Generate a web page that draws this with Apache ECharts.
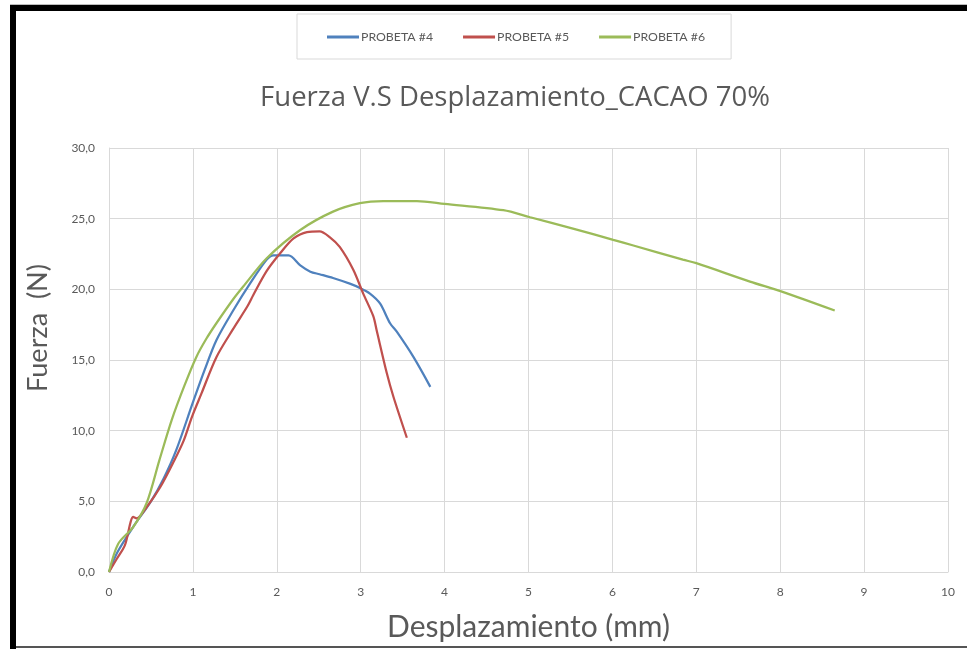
<!DOCTYPE html>
<html>
<head>
<meta charset="utf-8">
<style>
  html, body { margin: 0; padding: 0; background: #fff; }
  #chart { width: 967px; height: 649px; }
</style>
<script src="https://cdn.jsdelivr.net/npm/echarts@6/dist/echarts.min.js"></script>
</head>
<body>
<div id="chart"></div>
<script>
// Force (N) vs displacement (mm) for three 70% cacao specimens
const seriesNames = ['PROBETA #4', 'PROBETA #5', 'PROBETA #6'];
const seriesColors = ['#4F81BD', '#C0504D', '#9BBB59'];

const probeta4 = [
  [0, 0], [0.1, 1.4], [0.3, 3.3], [0.5, 5.0], [0.65, 6.6], [0.8, 8.6], [1.0, 12.0],
  [1.14, 14.3], [1.28, 16.4], [1.48, 18.5], [1.68, 20.4], [1.88, 22.1], [1.96, 22.4],
  [2.14, 22.4], [2.28, 21.7], [2.4, 21.25], [2.51, 21.07], [2.67, 20.8], [2.87, 20.4],
  [2.99, 20.1], [3.11, 19.7], [3.23, 19.0], [3.35, 17.6], [3.43, 17.0], [3.63, 15.2],
  [3.83, 13.1]
];

const probeta5 = [
  [0, 0], [0.09, 0.9], [0.19, 1.9], [0.29, 3.9], [0.33, 3.8], [0.45, 4.6], [0.61, 6.0],
  [0.77, 7.8], [0.89, 9.3], [0.99, 11.0], [1.1, 12.6], [1.28, 15.2], [1.48, 17.2],
  [1.65, 18.8], [1.72, 19.6], [1.88, 21.3], [2.04, 22.55], [2.2, 23.6], [2.36, 24.05],
  [2.51, 24.1], [2.63, 23.7], [2.75, 23.0], [2.91, 21.4], [3.03, 19.7], [3.15, 18.1],
  [3.19, 17.1], [3.31, 14.1], [3.39, 12.4], [3.55, 9.5]
];

const probeta6 = [
  [0, 0], [0.11, 2.0], [0.29, 3.2], [0.45, 4.9], [0.6, 7.9], [0.75, 10.8],
  [0.9, 13.2], [1.04, 15.2], [1.16, 16.5], [1.28, 17.6], [1.48, 19.3], [1.6, 20.2],
  [1.88, 22.2], [2.28, 24.2], [2.67, 25.5], [2.99, 26.1], [3.27, 26.25], [3.67, 26.25],
  [4.0, 26.05], [4.7, 25.6], [5.02, 25.1], [5.53, 24.3], [6.01, 23.5], [6.25, 23.1],
  [6.84, 22.1], [7.0, 21.85], [7.64, 20.55], [8.02, 19.84], [8.65, 18.5]
];

const xTicks = [0, 10, 1];   // min, max, step
const yTicks = [0, 30, 5];

const textGray = '#595959';
const gridGray = '#D9D9D9';
const uiFont = 'Lato';

const chart = echarts.init(document.getElementById('chart'));

chart.setOption({
  backgroundColor: '#ffffff',
  animation: false,
  title: {
    text: 'Fuerza V.S Desplazamiento_CACAO 70%',
    left: 510, top: 79, textAlign: 'center',
    textStyle: { fontFamily: 'Open Sans', fontSize: 27.5, fontWeight: 'normal', color: textGray }
  },
  legend: {
    data: seriesNames,
    left: 297, top: 14,
    padding: [17, 26, 16, 30],
    itemGap: 30, itemWidth: 32, itemHeight: 3,
    borderColor: gridGray, borderWidth: 1,
    icon: 'rect',
    textStyle: { fontFamily: uiFont, fontSize: 12.3, color: textGray, padding: [0, 0, 0, -3] }
  },
  grid: { left: 109, right: 19, top: 148, bottom: 77, containLabel: false },
  xAxis: {
    type: 'value', min: xTicks[0], max: xTicks[1], interval: xTicks[2],
    name: 'Desplazamiento (mm)', nameLocation: 'middle', nameGap: 40,
    nameTextStyle: { fontFamily: uiFont, fontSize: 30, color: textGray },
    axisLine: { show: true, lineStyle: { color: gridGray } },
    axisTick: { show: false },
    axisLabel: { fontFamily: uiFont, fontSize: 12, color: textGray, margin: 14 },
    splitLine: { show: true, lineStyle: { color: gridGray, width: 1 } }
  },
  yAxis: {
    type: 'value', min: yTicks[0], max: yTicks[1], interval: yTicks[2],
    axisLine: { show: true, lineStyle: { color: gridGray } },
    axisTick: { show: false },
    axisLabel: {
      fontFamily: uiFont, fontSize: 12, color: textGray, margin: 14,
      formatter: v => v.toFixed(1).replace('.', ',')
    },
    splitLine: { show: true, lineStyle: { color: gridGray, width: 1 } }
  },
  series: [probeta4, probeta5, probeta6].map((d, i) => ({
    name: seriesNames[i],
    type: 'line',
    data: d,
    smooth: 0.3,
    showSymbol: false,
    lineStyle: { color: seriesColors[i], width: 2.25 },
    itemStyle: { color: seriesColors[i] }
  })),
  graphic: [
    // vertical axis title
    {
      type: 'text', x: 38, y: 328, rotation: Math.PI / 2,
      style: {
        text: 'Fuerza  (N)', fill: textGray, font: '27px Lato',
        textAlign: 'center', textVerticalAlign: 'middle'
      }
    },
    // page frame
    { type: 'rect', shape: { x: 10, y: 4, width: 957, height: 1 }, style: { fill: '#bdbdbd' }, silent: true },
    { type: 'rect', shape: { x: 10, y: 5, width: 957, height: 6 }, style: { fill: '#000' }, silent: true },
    { type: 'rect', shape: { x: 10, y: 5, width: 6, height: 644 }, style: { fill: '#000' }, silent: true },
    { type: 'rect', shape: { x: 16, y: 646, width: 951, height: 2 }, style: { fill: '#555' }, silent: true }
  ]
});
</script>
</body>
</html>
